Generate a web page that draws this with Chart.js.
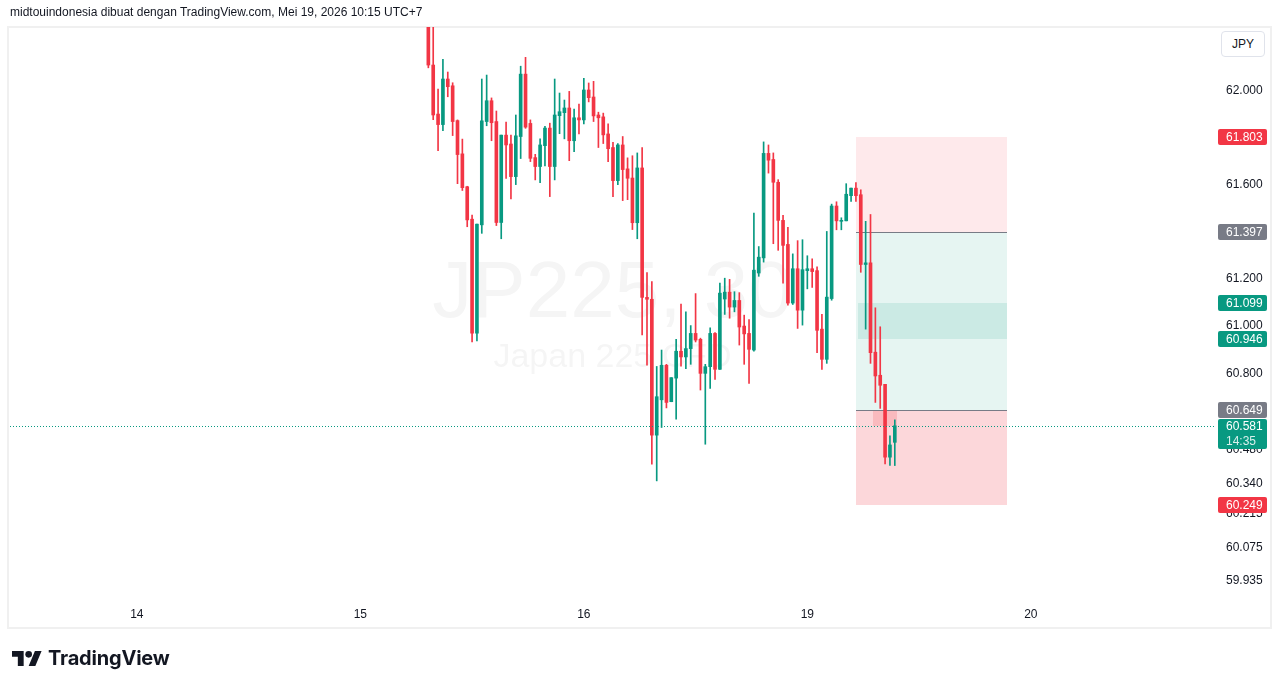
<!DOCTYPE html>
<html>
<head>
<meta charset="utf-8">
<script src="https://cdn.jsdelivr.net/npm/chart.js@4.4.1/dist/chart.umd.min.js"></script>
<style>
  html, body { margin: 0; padding: 0; background: #fff; width: 1281px; height: 688px; overflow: hidden; }
  #wrap { position: relative; width: 1281px; height: 688px; }
  #chart { position: absolute; left: 0; top: 0; }
  #hdr { position: absolute; left: 10px; top: 5px; font: 12px "Liberation Sans", sans-serif; color: #131722; white-space: nowrap; }
  #jpy { position: absolute; left: 1221px; top: 31px; width: 44px; height: 26px; box-sizing: border-box; border: 1px solid #e0e3eb; border-radius: 4px;
         font: 12px "Liberation Sans", sans-serif; color: #131722; text-align: center; line-height: 24px; background: #fff; }
  #logo { position: absolute; left: 12px; top: 647px; height: 22px; display: flex; align-items: center; }
  #logo span { font: 700 20px Inter, sans-serif; color: #131722; margin-left: 6px; letter-spacing: -0.2px; }
</style>
</head>
<body>
<div id="wrap">
  <canvas id="chart" width="1281" height="688"></canvas>
  <div id="hdr">midtouindonesia dibuat dengan TradingView.com, Mei 19, 2026 10:15 UTC+7</div>
  <div id="jpy">JPY</div>
  <div id="logo">
    <svg width="30" height="15" viewBox="0 4 36 18"><path fill="#131722" d="M14 22H7V11H0V4h14v18zM28 22h-8l7.5-18h8L28 22z"/><circle fill="#131722" cx="20" cy="8" r="4"/></svg>
    <span>TradingView</span>
  </div>
</div>
<script>
// JP225 CFD, 30 minute candles (index 0 = first visible candle)
var opens = [62.40, 62.11, 61.900, 61.855, 62.050, 62.021, 61.872, 61.730, 61.590, 61.452,
  60.970, 61.428, 61.868, 61.957, 61.868, 61.438, 61.810, 61.772, 61.633, 61.804,
  62.071, 61.860, 61.714, 61.676, 61.765, 61.840, 61.676, 61.893, 61.906, 61.926,
  61.786, 61.884, 61.875, 62.003, 61.973, 61.896, 61.888, 61.815, 61.757, 61.616,
  61.768, 61.666, 61.627, 61.437, 61.670, 61.121, 61.113, 60.542, 60.690, 60.835,
  60.682, 60.781, 60.894, 60.870, 60.905, 60.969, 60.944, 60.801, 60.829, 60.969,
  60.818, 61.114, 61.143, 61.080, 61.108, 61.000, 60.969, 60.899, 61.224, 61.288,
  61.732, 61.706, 61.609, 61.447, 61.345, 61.097, 61.242, 61.067, 61.234, 61.242,
  61.234, 60.987, 60.860, 61.116, 61.508, 61.443, 61.445, 61.552, 61.584, 61.556,
  61.260, 61.267, 60.890, 60.793, 60.755, 60.450, 60.512];
var highs = [62.45, 62.32, 62.007, 62.135, 62.080, 62.034, 61.875, 61.793, 61.592, 61.469,
  61.431, 62.050, 62.067, 61.969, 61.913, 61.810, 61.866, 61.810, 61.896, 62.105,
  62.143, 61.875, 61.728, 61.794, 61.847, 61.861, 62.050, 61.990, 61.960, 61.997,
  61.921, 61.943, 62.053, 62.033, 62.040, 61.908, 61.904, 61.858, 61.779, 61.774,
  61.804, 61.713, 61.722, 61.734, 61.757, 61.226, 61.188, 60.830, 60.899, 60.839,
  60.783, 60.944, 61.093, 61.060, 61.002, 61.137, 60.949, 60.839, 60.993, 60.972,
  61.181, 61.202, 61.197, 61.145, 61.141, 61.046, 61.027, 61.478, 61.336, 61.781,
  61.768, 61.734, 61.620, 61.468, 61.417, 61.305, 61.361, 61.365, 61.297, 61.284,
  61.250, 61.049, 61.400, 61.516, 61.526, 61.458, 61.603, 61.584, 61.608, 61.577,
  61.443, 61.472, 61.077, 60.997, 60.755, 60.539, 60.606];
var lows = [62.098, 61.876, 61.744, 61.829, 61.974, 61.808, 61.603, 61.574, 61.420, 60.933,
  60.937, 61.392, 61.850, 61.786, 61.425, 61.369, 61.625, 61.538, 61.599, 61.710,
  61.839, 61.697, 61.619, 61.607, 61.679, 61.548, 61.619, 61.816, 61.794, 61.701,
  61.739, 61.815, 61.858, 61.952, 61.868, 61.757, 61.774, 61.697, 61.548, 61.599,
  61.531, 61.535, 61.408, 61.369, 60.963, 60.835, 60.421, 60.351, 60.574, 60.656,
  60.682, 60.609, 60.831, 60.821, 60.839, 60.933, 60.731, 60.504, 60.738, 60.776,
  60.818, 61.049, 61.033, 61.060, 60.920, 60.839, 60.759, 60.894, 61.210, 61.270,
  61.648, 61.348, 61.320, 61.181, 61.088, 61.091, 60.990, 61.004, 61.157, 61.163,
  60.888, 60.818, 60.843, 61.109, 61.407, 61.407, 61.445, 61.528, 61.528, 61.227,
  60.987, 60.843, 60.679, 60.654, 60.422, 60.415, 60.415];
var closes = [62.11, 61.896, 61.855, 62.050, 62.017, 61.868, 61.727, 61.586, 61.449, 60.970,
  61.431, 61.871, 61.957, 61.863, 61.438, 61.810, 61.768, 61.633, 61.807, 62.071,
  61.844, 61.711, 61.676, 61.768, 61.840, 61.676, 61.896, 61.910, 61.926, 61.786,
  61.884, 61.875, 62.003, 61.970, 61.892, 61.884, 61.811, 61.752, 61.616, 61.768,
  61.663, 61.626, 61.437, 61.670, 61.121, 61.113, 60.542, 60.703, 60.835, 60.679,
  60.783, 60.894, 60.870, 60.905, 60.969, 60.941, 60.801, 60.829, 60.969, 60.818,
  61.139, 61.143, 61.080, 61.108, 60.996, 60.967, 60.902, 61.236, 61.291, 61.732,
  61.703, 61.609, 61.447, 61.341, 61.097, 61.242, 61.067, 61.238, 61.242, 61.230,
  60.982, 60.860, 61.122, 61.508, 61.445, 61.447, 61.558, 61.584, 61.552, 61.260,
  61.267, 60.888, 60.790, 60.751, 60.450, 60.501, 60.581];

// time axis: candle index where each day starts
var dayTickIdx = [-60, -14, 32, 78, 124];
var dayTickLabels = ['14', '15', '16', '19', '20'];

// price axis ticks (log scale)
var priceTicks = [62.000, 61.800, 61.600, 61.400, 61.200, 61.000, 60.800, 60.480, 60.340, 60.215, 60.075, 59.935];

// position tool
var toolFrom = 88, toolTo = 119;
var stopPrice = 61.803, entryPrice = 61.397, targetPrice = 60.649, lowerStop = 60.249;
var bandHigh = 61.099, bandLow = 60.946;
var lastPrice = 60.581, countdown = '14:35';

var symbolText = 'JP225, 30';
var symbolDesc = 'Japan 225 CFD';

var UP = '#089981', DOWN = '#F23645', GREY = '#787B86';

var candleColors = closes.map(function (c, i) { return c >= opens[i] ? UP : DOWN; });

var tvExtras = {
  id: 'tvExtras',
  beforeDraw: function (chart) {
    var ctx = chart.ctx;
    ctx.save();
    ctx.fillStyle = '#fff';
    ctx.fillRect(0, 0, chart.width, chart.height);
    ctx.strokeStyle = '#f0f0f0';
    ctx.lineWidth = 2;
    ctx.strokeRect(8, 27, 1263, 601);
    ctx.restore();
  },
  beforeDatasetsDraw: function (chart) {
    var ctx = chart.ctx, a = chart.chartArea, x = chart.scales.x, y = chart.scales.y;
    ctx.save();
    ctx.beginPath();
    ctx.rect(a.left, a.top, a.right - a.left, a.bottom - a.top);
    ctx.clip();

    // watermark
    var cx = (a.left + a.right) / 2, cy = (a.top + a.bottom) / 2;
    ctx.fillStyle = 'rgba(19,23,34,0.045)';
    ctx.textAlign = 'center';
    ctx.textBaseline = 'alphabetic';
    ctx.font = '80px "Liberation Sans", sans-serif';
    ctx.fillText(symbolText, cx, cy + 5);
    ctx.font = '34px "Liberation Sans", sans-serif';
    ctx.fillText(symbolDesc, cx, cy + 55);

    // position tool zones
    var x0 = Math.round(x.getPixelForValue(toolFrom)), x1 = Math.round(x.getPixelForValue(toolTo));
    function zone(p1, p2, color, from) {
      var xa = from === undefined ? x0 : Math.round(x.getPixelForValue(from));
      var ya = Math.round(y.getPixelForValue(p1)), yb = Math.round(y.getPixelForValue(p2));
      ctx.fillStyle = color;
      ctx.fillRect(xa, ya, x1 - xa, yb - ya);
    }
    zone(stopPrice, entryPrice, 'rgba(242,54,69,0.11)');
    zone(entryPrice, targetPrice, 'rgba(8,153,129,0.10)');
    zone(targetPrice, lowerStop, 'rgba(242,54,69,0.20)');
    zone(bandHigh, bandLow, 'rgba(8,153,129,0.12)', toolFrom + 0.5);
    ctx.fillStyle = 'rgba(242,54,69,0.18)';
    var xs = Math.round(x.getPixelForValue(91.5)), xe = Math.round(x.getPixelForValue(96.5));
    var ys = Math.round(y.getPixelForValue(targetPrice)), ye = Math.round(y.getPixelForValue(lastPrice));
    ctx.fillRect(xs, ys, xe - xs, ye - ys);

    ctx.strokeStyle = GREY;
    ctx.lineWidth = 1;
    [entryPrice, targetPrice].forEach(function (p) {
      var yy = Math.round(y.getPixelForValue(p)) + 0.5;
      ctx.beginPath();
      ctx.moveTo(x0, yy);
      ctx.lineTo(x1, yy);
      ctx.stroke();
    });
    ctx.restore();
  },
  afterDatasetsDraw: function (chart) {
    var ctx = chart.ctx, a = chart.chartArea, y = chart.scales.y;
    var yy = Math.round(y.getPixelForValue(lastPrice)) + 0.5;
    ctx.save();
    ctx.strokeStyle = UP;
    ctx.lineWidth = 1;
    ctx.setLineDash([1, 2]);
    ctx.beginPath();
    ctx.moveTo(a.left, yy);
    ctx.lineTo(a.right, yy);
    ctx.stroke();
    ctx.restore();
  },
  afterDraw: function (chart) {
    var ctx = chart.ctx, y = chart.scales.y;
    ctx.save();
    ctx.font = '12px "Liberation Sans", sans-serif';
    ctx.textAlign = 'left';
    ctx.textBaseline = 'middle';
    function tag(price, bg) {
      var py = Math.round(y.getPixelForValue(price));
      ctx.fillStyle = bg;
      ctx.beginPath();
      ctx.roundRect(1218, py - 8, 49, 16, 2);
      ctx.fill();
      ctx.fillStyle = '#fff';
      ctx.fillText(price.toFixed(3), 1226, py + 0.5);
    }
    tag(stopPrice, DOWN);
    tag(entryPrice, GREY);
    tag(bandHigh, UP);
    tag(bandLow, UP);
    tag(targetPrice, GREY);
    tag(lowerStop, DOWN);
    var py = Math.round(y.getPixelForValue(lastPrice));
    ctx.fillStyle = UP;
    ctx.beginPath();
    ctx.roundRect(1218, py - 7, 49, 30, 2);
    ctx.fill();
    ctx.fillStyle = '#fff';
    ctx.fillText(lastPrice.toFixed(3), 1226, py + 0.5);
    ctx.fillStyle = 'rgba(255,255,255,0.85)';
    ctx.fillText(countdown, 1226, py + 15.5);
    ctx.restore();
  }
};

var yTop = 62.2734, yBottom = 59.8688;

new Chart(document.getElementById('chart'), {
  type: 'bar',
  data: {
    datasets: [{
      label: 'wick',
      data: lows.map(function (l, i) { return { x: i, y: [l, highs[i]] }; }),
      backgroundColor: candleColors,
      barThickness: 1,
      grouped: false,
      borderWidth: 0
    }, {
      label: 'body',
      data: opens.map(function (o, i) { return { x: i, y: [o, closes[i]] }; }),
      backgroundColor: candleColors,
      barThickness: 3,
      minBarLength: 1,
      grouped: false,
      borderWidth: 0
    }]
  },
  options: {
    responsive: false,
    devicePixelRatio: 1,
    animation: false,
    events: [],
    layout: { padding: { left: 10, right: 10, top: 27, bottom: 60 } },
    plugins: { legend: { display: false }, tooltip: { enabled: false } },
    scales: {
      x: {
        type: 'linear',
        offset: false,
        min: -86.1,
        max: 161.9,
        grid: { display: false, drawTicks: false, offset: false },
        border: { display: false },
        afterBuildTicks: function (scale) {
          scale.ticks = dayTickIdx.map(function (v) { return { value: v }; });
        },
        afterFit: function (scale) { scale.height = 31; },
        ticks: {
          autoSkip: false,
          maxRotation: 0,
          padding: 10,
          color: '#131722',
          font: { family: '"Liberation Sans", sans-serif', size: 12 },
          callback: function (v) { return dayTickLabels[dayTickIdx.indexOf(v)]; }
        }
      },
      y: {
        type: 'logarithmic',
        position: 'right',
        min: yBottom,
        max: yTop,
        grid: { display: false, drawTicks: false },
        border: { display: false },
        afterBuildTicks: function (scale) {
          scale.ticks = priceTicks.map(function (v) { return { value: v }; });
        },
        afterFit: function (scale) { scale.width = 56; },
        ticks: {
          autoSkip: false,
          padding: 11,
          color: '#131722',
          font: { family: '"Liberation Sans", sans-serif', size: 12 },
          callback: function (v) { return Number(v).toFixed(3); }
        }
      }
    }
  },
  plugins: [tvExtras]
});
</script>
</body>
</html>
